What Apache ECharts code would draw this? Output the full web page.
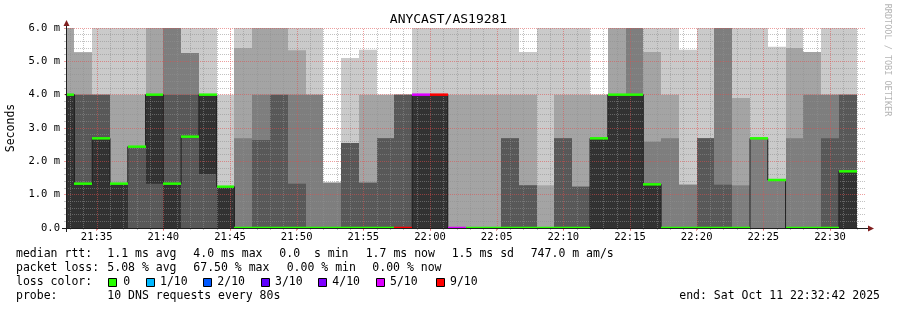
<!DOCTYPE html>
<html><head><meta charset="utf-8">
<script src="https://cdn.jsdelivr.net/npm/echarts@6/dist/echarts.min.js"></script>
<style>html,body{margin:0;padding:0;background:#fff}#c{width:897px;height:310px}</style>
</head><body><div id="c"></div>
<script>
// ---- data ----
const colEnd = ['21:33:20','21:34:40','21:36:00','21:37:20','21:38:40','21:40:00','21:41:20','21:42:40','21:44:00','21:45:20',
  '21:46:40','21:48:00','21:49:20','21:50:40','21:52:00','21:53:20','21:54:40','21:56:00','21:57:20','21:58:40',
  '22:00:00','22:01:20','22:02:40','22:04:00','22:05:20','22:06:40','22:08:00','22:09:20','22:10:40','22:12:00',
  '22:13:20','22:14:40','22:16:00','22:17:20','22:18:40','22:20:00','22:21:20','22:22:40','22:24:00','22:25:20',
  '22:26:40','22:28:00','22:29:20','22:30:40','22:32:00'];
// sorted ping times (ms) per column, ping1 = fastest ... ping10 = slowest (6 = at/above chart top)
const ping1 = [0,0,0,0,0,0,0,0,0,0, 0,0,0,0,0,0,0,0,0,0, 0,0,0,0,0,0,0,0,0,0, 0,0,0,0,0,0,0,0,0,0, 0,0,0,0,0];
const ping2 = [0,0,0,0,0,0,0,0,0,0, 0,0,0,0,0,0,0,0,0,0, 0,0,0,0,0,0,0,0,0,0, 0,0,0,0,0,0,0,0,0,0, 0,0,0,0,0];
const ping3 = [0,0,0,0,0,0,0,0,0,0, 0,0,0,0,0,0,0,0,0,0, 0,0,0,0,0,0,0,0,0,0, 0,0,0,0,0,0,0,0,0,0, 0,0,0,0,0];
const ping4 = [0,0,0,0,0,0,0,0,0,0, 0,0,0,0,0,0,0,0,0,0, 0,0,0,0,0,0,0,0,0,0, 0,0,0,0,0,0,0,0,0,2.69, 1.44,0,0,0,0];
const ping5 = [0,0,0,0,2.44,1.33,0,2.74,1.62,0, 0,0,0,0,0,0,0,0,0,0, 0,0,0,0,0,0,0,0,0,0, 0,0,0,0,0,0,0,0,0,2.69, 1.44,0,0,0,0];
const ping6 = [4,1.33,2.69,1.33,2.44,4,1.33,2.74,4,1.24, 0,0,0,0,0,0,0,0,0,0, 4,4,0,0,0,0,0,0,0,0, 2.69,4,4,1.31,0,0,0,0,0,2.69, 1.44,0,0,0,1.7];
const ping7 = [4,4,4,1.33,2.44,4,4,4,4,1.24, 0,2.64,4,1.33,0,0,2.55,1.36,2.69,4, 4,4,0,0,0,2.69,1.28,0,2.69,1.24, 2.69,4,4,1.31,0,0,2.69,1.3,0,2.69, 1.44,0,0,2.69,4];
const ping8 = [4,4,4,1.33,2.44,4,6,5.25,4,1.24, 2.69,4,4,4,4,1.36,2.55,1.36,2.69,4, 4,4,0,0,0,2.69,1.28,0,2.69,1.24, 2.69,4,6,2.59,2.69,1.3,2.69,6,1.28,2.69, 1.44,2.69,4,4,4];
const ping9 = [6,5.27,4,4,4,6,6,5.25,4,1.24, 5.4,6,6,5.33,4,1.36,2.55,4,4,4, 4,4,4,4,4,4,4,1.28,4,4, 4,6,6,5.28,4,1.3,2.69,6,3.9,2.69, 1.44,5.4,5.28,4,4];
const ping10 = [6,5.27,6,6,6,6,6,6,6,4, 6,6,6,6,6,1.36,5.1,5.35,4,4, 6,6,6,6,6,6,5.28,6,6,6, 4,6,6,6,6,5.35,6,6,6,6, 5.44,6,5.28,6,6];
const median = [4,1.33,2.69,1.33,2.44,4,1.33,2.74,4,1.24, 0,0,0,0,0,0,0,0,0,0, 4,4,0,0,0,0,0,0,0,0, 2.69,4,4,1.31,0,0,0,0,0,2.69, 1.44,0,0,0,1.7];
// index into lossLabels / lossColors
const lossIdx = [0,0,0,0,0,0,0,0,0,0, 0,0,0,0,0,0,0,0,0,6, 5,6,5,0,0,0,0,0,0,0, 0,0,0,0,0,0,0,0,0,0, 0,0,0,0,0];
const lossLabels = ['0','1/10','2/10','3/10','4/10','5/10','9/10'];
const lossColors = ['#26ff00','#00b8ff','#0059ff','#5e00ff','#7e00ff','#dd00ff','#ff0000'];
const xTickValues = [35,40,45,50,55,60,65,70,75,80,85,90]; // minutes after 21:00
const xTickLabels = ['21:35','21:40','21:45','21:50','21:55','22:00','22:05','22:10','22:15','22:20','22:25','22:30'];
const yTickLabels = ['0.0','1.0 m','2.0 m','3.0 m','4.0 m','5.0 m','6.0 m'];
const X_MIN = 32.7, X_MAX = 92.7; // 21:32:42 .. 22:32:42
const STEP_MIN = 80/60;

// ---- build ----
const FONT = "'DejaVu Sans Mono', monospace";
const GRID = 'rgba(143,143,143,0.55)';
const MGRID = 'rgba(222,79,79,0.55)';
const SMOKE = ['#cacaca','#a4a4a4','#7e7e7e','#585858','#323232'];
const pings = [ping1,ping2,ping3,ping4,ping5,ping6,ping7,ping8,ping9,ping10];
function toMin(s){const a=s.split(':').map(Number);return (a[0]-21)*60+a[1]+a[2]/60;}
const smokeData = colEnd.map((t,i)=>{const e=toMin(t);return [e-STEP_MIN,e].concat(pings.map(p=>p[i]));});
const medianPath = [];
colEnd.forEach((t,i)=>{const e=toMin(t);medianPath.push([e-STEP_MIN,median[i]]);medianPath.push([e,median[i]]);});
const lossData = colEnd.map((t,i)=>{const e=toMin(t);return [e-STEP_MIN,e,median[i],lossIdx[i]];});
const gridMinutes = [];
for (let m=Math.ceil(X_MIN); m<=Math.floor(X_MAX); m++) gridMinutes.push([m,0,6]);

const chart = echarts.init(document.getElementById('c'), null, {renderer:'canvas', width:897, height:310});

function txt(x,y,s,o){o=o||{};return {type:'text',z:100,x:x,y:y,rotation:o.rot||0,style:{text:s,fill:o.color||'#000',font:(o.size||11.5)+'px '+FONT,align:o.align||'left',verticalAlign:'middle',textAlign:o.align||'left',textVerticalAlign:'middle'}};}

const graphic = [];
// axis lines + arrows
graphic.push({type:'line',z:100,shape:{x1:62,y1:228.5,x2:868,y2:228.5},style:{stroke:'#1f1f1f',lineWidth:1}});
graphic.push({type:'line',z:100,shape:{x1:66.5,y1:232,x2:66.5,y2:24},style:{stroke:'#1f1f1f',lineWidth:1}});
graphic.push({type:'polygon',z:101,shape:{points:[[63.5,26],[69.5,26],[66.5,20]]},style:{fill:'#801f1f'}});
graphic.push({type:'polygon',z:101,shape:{points:[[868,225.5],[868,231.5],[874,228.5]]},style:{fill:'#801f1f'}});
// right side credit
graphic.push(txt(887,60,'RRDTOOL / TOBI OETIKER',{size:8.5,color:'#b4b4b4',align:'center',rot:-Math.PI/2}));
// legend lines
const L1=254.2,L2=268.2,L3=282.2,L4=296.2;
graphic.push(txt(16,L1,'median rtt:'));
graphic.push(txt(107.3,L1,'1.1 ms avg'));
graphic.push(txt(193.3,L1,'4.0 ms max'));
graphic.push(txt(279.3,L1,'0.0  s min'));
graphic.push(txt(365.7,L1,'1.7 ms now'));
graphic.push(txt(451.7,L1,'1.5 ms sd'));
graphic.push(txt(530.7,L1,'747.0 m am/s'));
graphic.push(txt(16,L2,'packet loss:'));
graphic.push(txt(107.3,L2,'5.08 % avg'));
graphic.push(txt(193.3,L2,'67.50 % max'));
graphic.push(txt(286.7,L2,'0.00 % min'));
graphic.push(txt(372.3,L2,'0.00 % now'));
graphic.push(txt(16,L3,'loss color:'));
const boxX=[108.5,146.5,203.5,261.5,318.5,376.5,436.5];
const labX=[123.3,160,217.3,275,332.3,390,450];
lossLabels.forEach((l,i)=>{
  graphic.push({type:'rect',z:100,shape:{x:boxX[i],y:278.5,width:8,height:8},style:{fill:lossColors[i],stroke:'#000',lineWidth:1}});
  graphic.push(txt(labX[i],L3,l));
});
graphic.push(txt(16,L4,'probe:'));
graphic.push(txt(107.3,L4,'10 DNS requests every 80s'));
graphic.push(txt(880,L4,'end: Sat Oct 11 22:32:42 2025',{align:'right'}));

const option = {
  animation:false,
  backgroundColor:'#fff',
  title:{text:'ANYCAST/AS19281',left:'center',top:8,textStyle:{fontFamily:FONT,fontSize:13,fontWeight:'normal',color:'#000'}},
  grid:{left:66,right:31,top:28,bottom:82,containLabel:false,outerBoundsMode:'none'},
  xAxis:{type:'value',min:X_MIN,max:X_MAX,axisLine:{show:false},splitLine:{show:false},
    axisTick:{show:true,customValues:xTickValues,length:3,lineStyle:{color:MGRID}},
    axisLabel:{customValues:xTickValues,formatter:v=>xTickLabels[xTickValues.indexOf(Math.round(v))],fontFamily:FONT,fontSize:10.5,color:'#000',margin:4}},
  yAxis:{type:'value',min:0,max:6,interval:1,z:4,
    name:'Seconds',nameLocation:'middle',nameGap:49,nameRotate:90,nameTextStyle:{fontFamily:FONT,fontSize:11.5,color:'#000'},
    axisLine:{show:false},
    axisTick:{show:true,length:2,lineStyle:{color:MGRID}},
    minorTick:{show:true,splitNumber:5,length:2,lineStyle:{color:GRID}},
    splitLine:{show:true,lineStyle:{color:MGRID,type:[1,1],width:1}},
    minorSplitLine:{show:true,lineStyle:{color:GRID,type:[1,1],width:1}},
    axisLabel:{formatter:v=>yTickLabels[Math.round(v)],fontFamily:FONT,fontSize:10.5,color:'#000',margin:6}},
  series:[
    {type:'custom',name:'smoke',z:1,clip:true,silent:true,data:smokeData,
      encode:{x:[0,1],y:[2,3,4,5,6,7,8,9,10,11]},
      renderItem:function(params,api){
        const x0=api.value(0),x1=api.value(1);const ch=[];
        for(let b=0;b<5;b++){
          const lo=api.value(2+b),hi=api.value(11-b);
          if(!(hi>lo))continue;
          const a=api.coord([x0,hi]),c=api.coord([x1,lo]);
          const xa=Math.round(a[0]),xc=Math.round(c[0]);
          ch.push({type:'rect',shape:{x:xa,y:a[1],width:xc-xa,height:c[1]-a[1]},style:{fill:SMOKE[b]}});
        }
        return {type:'group',children:ch};
      }},
    {type:'custom',name:'vgrid',z:4,clip:false,silent:true,data:gridMinutes,encode:{x:0,y:[1,2]},
      renderItem:function(params,api){
        const m=api.value(0);const b=api.coord([m,0]),t=api.coord([m,6]);
        const x=Math.round(b[0])+0.5;const major=(m%5===0);
        return {type:'group',children:[
          {type:'line',shape:{x1:x,y1:b[1],x2:x,y2:t[1]},style:{stroke:major?MGRID:GRID,lineWidth:1,lineDash:[1,1]}},
          {type:'line',shape:{x1:x,y1:b[1],x2:x,y2:b[1]+2},style:{stroke:major?MGRID:GRID,lineWidth:1}}
        ]};
      }},
    {type:'line',name:'median',z:6,clip:true,silent:true,data:medianPath,symbol:'none',
      lineStyle:{color:'#202020',width:1}},
    {type:'custom',name:'loss',z:7,clip:true,silent:true,data:lossData,encode:{x:[0,1],y:2},
      renderItem:function(params,api){
        const a=api.coord([api.value(0),api.value(2)]),c=api.coord([api.value(1),api.value(2)]);
        const xa=Math.round(a[0]),xc=Math.round(c[0]);
        return {type:'rect',shape:{x:xa,y:a[1]-1.25,width:xc-xa,height:2.5},style:{fill:lossColors[api.value(3)]}};
      }}
  ],
  graphic:graphic
};
chart.setOption(option);
</script></body></html>
